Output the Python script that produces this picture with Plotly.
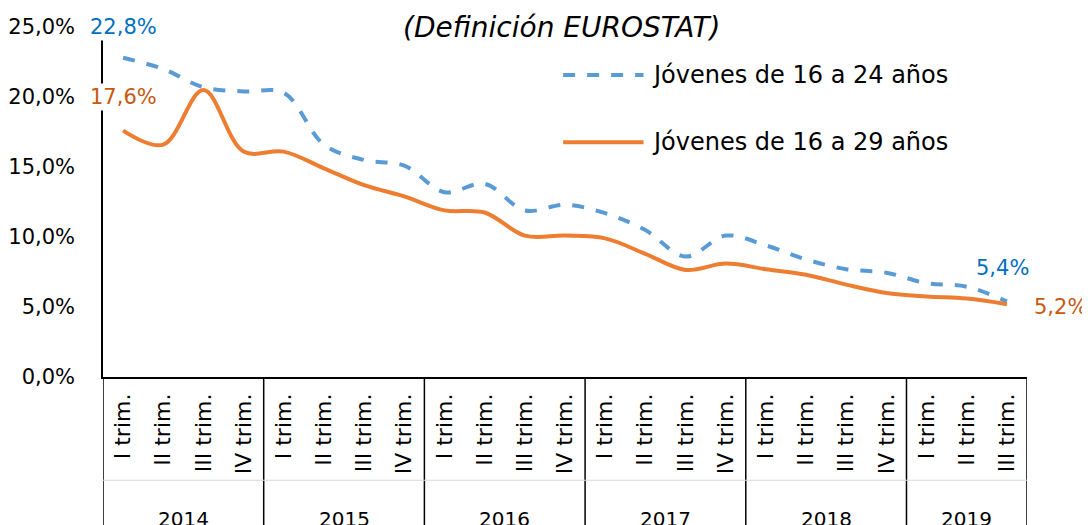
import plotly.graph_objects as go

years = ['2014', '2015', '2016', '2017', '2018', '2019']
quarters = ['I trim.', 'II trim.', 'III trim.', 'IV trim.'] * 5 + ['I trim.', 'II trim.', 'III trim.']
jov_16_24 = [22.8, 22.0, 20.7, 20.4, 20.3, 16.6, 15.5, 15.1, 13.2, 13.8, 11.9,
             12.3, 11.7, 10.5, 8.6, 10.1, 9.4, 8.4, 7.7, 7.45, 6.7, 6.45, 5.4]
jov_16_29 = [17.6, 16.6, 20.5, 16.1, 16.1, 14.9, 13.7, 12.9, 11.9, 11.75, 10.1,
             10.1, 9.9, 8.8, 7.65, 8.1, 7.7, 7.3, 6.6, 6.0, 5.75, 5.6, 5.2]
names = ['Jóvenes de 16 a 24 años', 'Jóvenes de 16 a 29 años']

BLUE = '#5B9BD5'
ORANGE = '#ED7D31'
FONT = 'DejaVu Sans'

x = list(range(len(quarters)))

fig = go.Figure()
fig.add_trace(go.Scatter(x=x, y=jov_16_24, mode='lines', name=names[0], line_shape='spline',
                         line=dict(color=BLUE, width=4, dash='dash'), cliponaxis=False))
fig.add_trace(go.Scatter(x=x, y=jov_16_29, mode='lines', name=names[1], line_shape='spline',
                         line=dict(color=ORANGE, width=4), cliponaxis=False))

# year group dividers and labels
bounds = [-0.5]
for i, yr in enumerate(years):
    n = 4 if i < 5 else 3
    start = bounds[-1]
    bounds.append(start + n)
    fig.add_annotation(x=start + n / 2, y=-0.405, xref='x', yref='paper', text=yr,
                       showarrow=False, font=dict(size=20, color='black'), yanchor='middle')
for b in bounds:
    fig.add_shape(type='line', xref='x', yref='paper', x0=b, x1=b, y0=0, y1=-0.45,
                  line=dict(color='black', width=1.5))
fig.add_shape(type='line', xref='paper', yref='paper', x0=0, x1=1, y0=-0.295, y1=-0.295,
              line=dict(color='#D9D9D9', width=1))

# start / end labels
fig.add_annotation(x=0, y=25, text='22,8%', showarrow=False, bgcolor='white',
                   font=dict(size=21, color='#0070C0'))
fig.add_annotation(x=0, y=20, text='17,6%', showarrow=False, bgcolor='white',
                   font=dict(size=21, color='#C55A11'))
fig.add_annotation(x=21.9, y=7.8, text='5,4%', showarrow=False,
                   font=dict(size=21, color='#0070C0'))
fig.add_annotation(x=22, y=5.0, xshift=54, text='5,2%', showarrow=False,
                   font=dict(size=21, color='#C55A11'))

# manual legend
for k, (nm, col, dsh) in enumerate([(names[0], BLUE, 'dash'), (names[1], ORANGE, 'solid')]):
    yy = 0.863 - k * 0.192
    fig.add_shape(type='line', xref='paper', yref='paper', x0=0.498, x1=0.585, y0=yy, y1=yy,
                  line=dict(color=col, width=4, dash=dsh))
    fig.add_annotation(xref='paper', yref='paper', x=0.592, y=yy, text=nm, showarrow=False,
                       xanchor='left', yanchor='middle', font=dict(size=24, color='black'))

fig.update_layout(
    width=1090, height=525,
    margin=dict(l=95, r=71, t=19, b=156, autoexpand=False),
    plot_bgcolor='white', paper_bgcolor='white',
    font=dict(family=FONT, color='black'),
    separators=',.',
    showlegend=False,
    title=dict(text='<i>(Definición EUROSTAT)</i>', x=0.508, xanchor='center', y=0.964,
               yanchor='middle', font=dict(size=28, color='black')),
)
fig.update_xaxes(range=[-0.5, 22.5], tickvals=x, ticktext=quarters, tickangle=-90,
                 showgrid=False, zeroline=False, showline=True, linecolor='black', linewidth=1.5,
                 ticks='', tickfont=dict(size=22), ticklabelstandoff=6, automargin=False)
fig.update_yaxes(range=[0, 25], dtick=5, tickformat='.1f', ticksuffix='%', showgrid=False,
                 zeroline=False, showline=True, linecolor='black', linewidth=1.5, ticks='',
                 tickfont=dict(size=21), ticklabelstandoff=22, automargin=False)

fig.write_html('out.html')
